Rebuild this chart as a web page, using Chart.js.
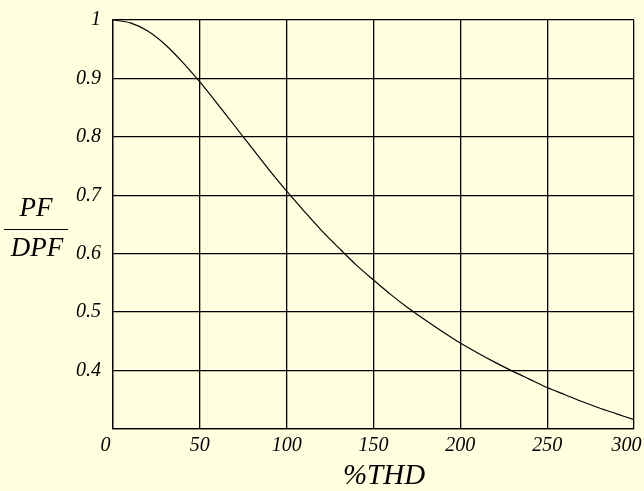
<!DOCTYPE html>
<html>
<head>
<meta charset="utf-8">
<script src="https://cdn.jsdelivr.net/npm/chart.js@4/dist/chart.umd.min.js"></script>
<style>
  body { margin: 0; background: #FFFFE0; }
  canvas { display: block; }
</style>
</head>
<body>
<canvas id="grafico" width="644" height="491"></canvas>
<script>
// %THD (eixo x) e PF/DPF (eixo y)
const thd = [0, 10, 20, 30, 40, 50, 60, 70, 80, 90, 100, 110, 120, 130, 140, 150,
  160, 170, 180, 190, 200, 210, 220, 230, 240, 250, 260, 270, 280, 290, 300];
const razaoPF = [1, 0.995, 0.981, 0.958, 0.928, 0.894, 0.857, 0.819, 0.781, 0.743, 0.707,
  0.673, 0.640, 0.610, 0.581, 0.555, 0.530, 0.507, 0.486, 0.466, 0.447,
  0.430, 0.414, 0.399, 0.385, 0.371, 0.359, 0.347, 0.336, 0.326, 0.316];
const ticksX = [0, 50, 100, 150, 200, 250, 300];
const ticksY = [0.3, 0.4, 0.5, 0.6, 0.7, 0.8, 0.9, 1];

const fonte = { family: 'Liberation Serif', style: 'italic', size: 20 };

// títulos dos eixos (fração PF / DPF e %THD)
const titulos = {
    id: 'titulos',
    afterDraw(chart) {
        const ctx = chart.ctx;
        ctx.save();
        ctx.fillStyle = '#000';
        ctx.strokeStyle = '#000';
        ctx.textAlign = 'center';
        ctx.textBaseline = 'middle';
        ctx.font = 'italic 27px "Liberation Serif"';
        ctx.fillText('PF', 36, 209);
        ctx.fillText('DPF', 37, 249);
        ctx.lineWidth = 1;
        ctx.beginPath();
        ctx.moveTo(4, 229.5);
        ctx.lineTo(68, 229.5);
        ctx.stroke();
        ctx.font = 'italic 29px "Liberation Serif"';
        ctx.fillText('%THD', 384, 476);
        ctx.restore();
    }
};

const ctx = document.getElementById('grafico').getContext('2d');
new Chart(ctx, {
    type: 'line',
    data: {
        labels: thd,
        datasets: [{
            label: 'PF/DPF',
            data: thd.map((x, i) => ({ x: x, y: razaoPF[i] })),
            borderColor: '#000',
            borderWidth: 1.2,
            pointRadius: 0,
            tension: 0.3,
            fill: false
        }]
    },
    options: {
        responsive: false,
        animation: false,
        layout: { padding: { top: 20, right: 10, left: 0, bottom: 0 } },
        plugins: {
            legend: { display: false },
            tooltip: { enabled: false }
        },
        scales: {
            x: {
                type: 'linear',
                min: 0,
                max: 300,
                afterBuildTicks: scale => { scale.ticks = ticksX.map(v => ({ value: v })); },
                afterFit: scale => {
                    scale.height = 62;
                    scale.paddingLeft = 0;
                    scale.paddingRight = 0;
                },
                grid: { color: '#000', lineWidth: 1.3, drawTicks: false },
                border: { color: '#000', width: 1.3 },
                ticks: {
                    color: '#000',
                    font: fonte,
                    padding: 5,
                    maxRotation: 0,
                    // espaços para deslocar o primeiro e o último rótulo como no original
                    callback: v => v === 0 ? '0   ' : (v === 300 ? '300   ' : String(v))
                }
            },
            y: {
                min: 0.3,
                max: 1,
                afterBuildTicks: scale => { scale.ticks = ticksY.map(v => ({ value: v })); },
                afterFit: scale => {
                    scale.width = 113;
                    scale.paddingTop = 0;
                    scale.paddingBottom = 0;
                },
                grid: { color: '#000', lineWidth: 1.3, drawTicks: false },
                border: { color: '#000', width: 1.3 },
                ticks: {
                    color: '#000',
                    font: fonte,
                    padding: 12,
                    callback: v => v < 0.35 ? '' : (v === 1 ? '1' : v.toFixed(1))
                }
            }
        }
    },
    plugins: [titulos]
});
</script>
</body>
</html>
